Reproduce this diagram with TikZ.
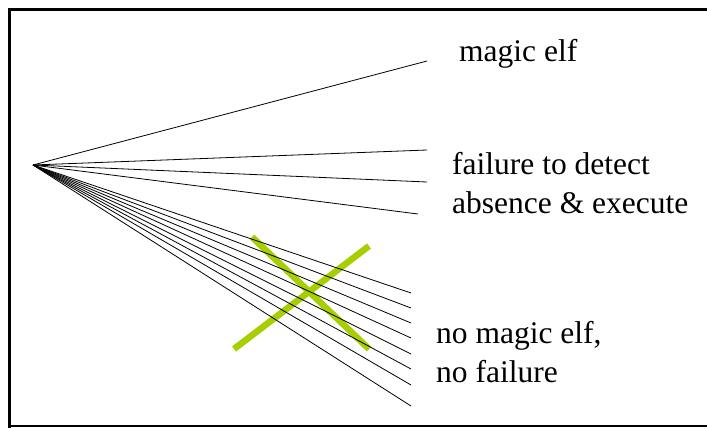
\documentclass[tikz,border=0pt]{standalone}
\usepackage{fontspec}
\setmainfont{Liberation Serif}
\definecolor{xgreen}{RGB}{166,206,0}
\begin{document}
\begin{tikzpicture}[x=1pt,y=-1pt,
  ray/.style={line width=0.8pt,black},
  cross/.style={line width=6.5pt,xgreen},
  lbl/.style={anchor=base west,inner sep=0pt,font=\fontsize{31.5}{38.5}\selectfont,align=left}]
\useasboundingbox (0,0) rectangle (707,428);
% frame
\draw[line width=3pt] (9.5,428) -- (9.5,9.5) -- (707,9.5);
\draw[line width=1.5pt] (8,426) -- (707,426);
% green cross
\coordinate (c1a) at (252,237);
\coordinate (c1b) at (369,349);
\coordinate (c2a) at (234,349);
\coordinate (c2b) at (369,246);
\draw[cross] (c1a) -- (c1b);
\draw[cross] (c2a) -- (c2b);
% origin and rays
\coordinate (O) at (33,165);
\coordinate (e1) at (427,61);
\coordinate (e2) at (427,150);
\coordinate (e3) at (427,182);
\coordinate (e4) at (418,214);
\foreach \y [count=\i] in {293,308,323,338,354,369,385,406}
  \coordinate (f\i) at (411,\y);
\foreach \p in {e1,e2,e3,e4,f1,f2,f3,f4,f5,f6,f7,f8}
  \draw[ray] (O) -- (\p);
% labels
\node[lbl] (t1) at (459,62) {magic elf};
\node[lbl] (t2) at (452,213) {failure to detect\\absence \& execute};
\node[lbl] (t3) at (436,382) {no magic elf,\\no failure};
\end{tikzpicture}
\end{document}
